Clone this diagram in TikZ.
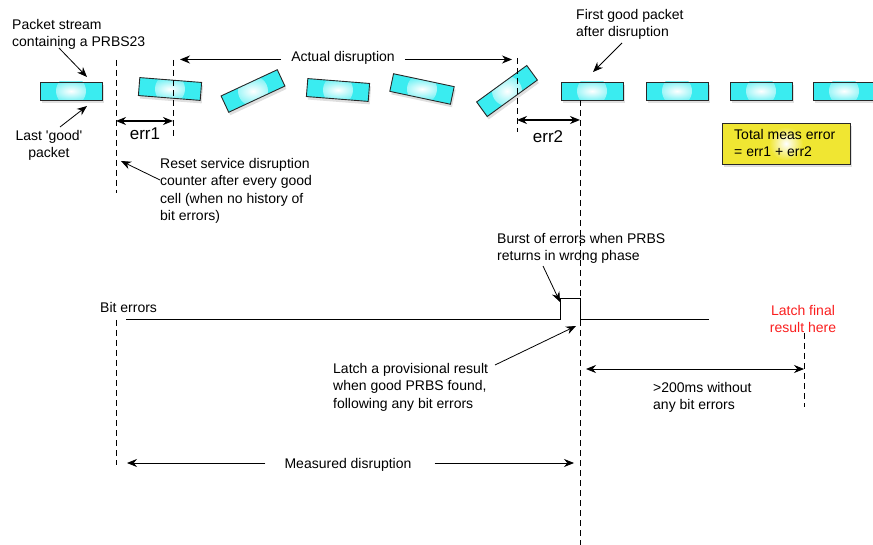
\documentclass[tikz,border=0pt]{standalone}
\usepackage{fontspec}
\setmainfont{Liberation Sans}
\usetikzlibrary{shapes, arrows.meta, shadows, calc, positioning}
\definecolor{pktcyan}{RGB}{58,236,240}
\definecolor{boxyellow}{RGB}{240,230,50}
\definecolor{latchred}{RGB}{250,30,30}
\definecolor{edgegrey}{RGB}{40,40,40}

\begin{document}
\begin{tikzpicture}[x=1pt, y=-1pt,
        pkt/.style={rectangle, draw=edgegrey, line width=0.9pt, fill=pktcyan,
            minimum width=62pt, minimum height=18pt, inner sep=0pt,
            drop shadow={opacity=0.25, shadow xshift=1.5pt, shadow yshift=-3pt},
            path picture={\shade[inner color=white, outer color=pktcyan]
                (path picture bounding box.center) circle (15pt);}},
        dline/.style={dash pattern=on 6pt off 4pt, line width=0.9pt},
        note/.style={font=\fontsize{14}{17.5}\selectfont, align=left, inner sep=0pt},
        errlabel/.style={font=\fontsize{17}{20}\selectfont, inner sep=0pt},
        ptr/.style={-{Stealth[length=10pt, width=8pt]}, line width=0.8pt},
        span/.style={{Stealth[length=10pt, width=8pt]}-{Stealth[length=10pt, width=8pt]}, line width=0.8pt}]
    \useasboundingbox (0,0) rectangle (873,545);

    % packets
    \foreach \n/\x/\y/\a in {0/71/91/0, 1/170/89/-4.5, 2/253/91/25, 3/338/90/-4.5,
            4/422/89/-12, 5/507/91/36, 6/592/91/0, 7/677/91/0, 8/761/91/0, 9/844/91/0}{
        \node[pkt, rotate=\a] (P\n) at (\x,\y) {};
    }

    % dashed markers
    \coordinate (d1a) at (116,60);  \coordinate (d1b) at (116,193);
    \coordinate (d1c) at (116,320); \coordinate (d1d) at (116,465);
    \coordinate (d2a) at (173,60);  \coordinate (d2b) at (173,138);
    \coordinate (d3a) at (517,58);  \coordinate (d3b) at (517,132);
    \coordinate (d4a) at (580,100); \coordinate (d4b) at (580,545);
    \coordinate (d5a) at (804,333); \coordinate (d5b) at (804,407);
    \draw[dline] (d1a) -- (d1b);
    \draw[dline] (d1c) -- (d1d);
    \draw[dline] (d2a) -- (d2b);
    \draw[dline] (d3a) -- (d3b);
    \draw[dline] (d4a) -- (d4b);
    \draw[dline] (d5a) -- (d5b);

    % result box
    \node[rectangle, draw=edgegrey, line width=0.9pt, fill=boxyellow,
        minimum width=128pt, minimum height=41pt,
        drop shadow={opacity=0.25, shadow xshift=2pt, shadow yshift=-3pt}] (total) at (786,143.5) {};
    \shade[inner color=white, outer color=boxyellow] (total.center) circle (17pt);
    \node[note, anchor=north west] (totaltxt) at (734,129) {Total meas error\\= err1 + err2};

    % notes
    \node[note, anchor=north west] (stream) at (12,19) {Packet stream\\containing a PRBS23};
    \node[note, anchor=north, align=center] (last) at (49,130) {Last \textquotesingle good\textquotesingle\\packet};
    \node[note, anchor=north west] (reset) at (160,158) {Reset service disruption\\counter after every good\\cell (when no history of\\bit errors)};
    \node[note, anchor=base] (actual) at (343,62) {Actual disruption};
    \node[errlabel, anchor=base] (e1) at (145,140) {err1};
    \node[errlabel, anchor=base] (e2) at (548,143) {err2};
    \node[note, anchor=north west] (first) at (576,9) {First good packet\\after disruption};
    \node[note, anchor=north west] (burst) at (497,233) {Burst of errors when PRBS\\returns in wrong phase};
    \node[note, anchor=base west] (bits) at (100,313) {Bit errors};
    \node[note, anchor=north west] (prov) at (333,363) {Latch a provisional result\\when good PRBS found,\\following any bit errors};
    \node[note, anchor=north, align=center, text=latchred] (final) at (803,305) {Latch final\\result here};
    \node[note, anchor=north west] (quiet) at (653,382) {>200ms without\\any bit errors};
    \node[note, anchor=base] (meas) at (348,468) {Measured disruption};

    % pointers
    \coordinate (a1) at (59,48);   \coordinate (a2) at (87,77);
    \coordinate (b1) at (60,127);  \coordinate (b2) at (87,106);
    \coordinate (c1) at (160,180); \coordinate (c2) at (121,161);
    \coordinate (f1) at (622,43);  \coordinate (f2) at (593,72);
    \coordinate (g1) at (543,266); \coordinate (g2) at (560,302);
    \coordinate (h1) at (495,365); \coordinate (h2) at (576,326);
    \draw[ptr] (a1) -- (a2);
    \draw[ptr] (b1) -- (b2);
    \draw[ptr] (c1) -- (c2);
    \draw[ptr] (f1) -- (f2);
    \draw[ptr] (g1) -- (g2);
    \draw[ptr] (h1) -- (h2);

    % spans
    \draw[ptr] ([xshift=-10pt]actual.west |- 0,59.5) -- (180,59.5);
    \draw[ptr] ([xshift=10pt]actual.east |- 0,59.5) -- (512,59.5);
    \draw[span, line width=1.3pt] (d1a |- 0,121) -- (d2a |- 0,121);
    \draw[span, line width=1.3pt] (d3a |- 0,120) -- (d4a |- 0,120);
    \draw[span] (586,369) -- (d5a |- 0,369);
    \draw[ptr] ([xshift=-19pt]meas.west |- 0,463) -- (127,463);
    \draw[ptr] ([xshift=23pt]meas.east |- 0,463) -- (574,463);

    % bit error trace
    \coordinate (sigA) at (126,319);
    \coordinate (sigB) at (560,319);
    \coordinate (sigC) at (709,319);
    \draw[line width=0.9pt] (sigA) -- (sigB) -- ++(0,-21) -- ++(20,0) -- ++(0,21) -- (sigC);
\end{tikzpicture}
\end{document}
